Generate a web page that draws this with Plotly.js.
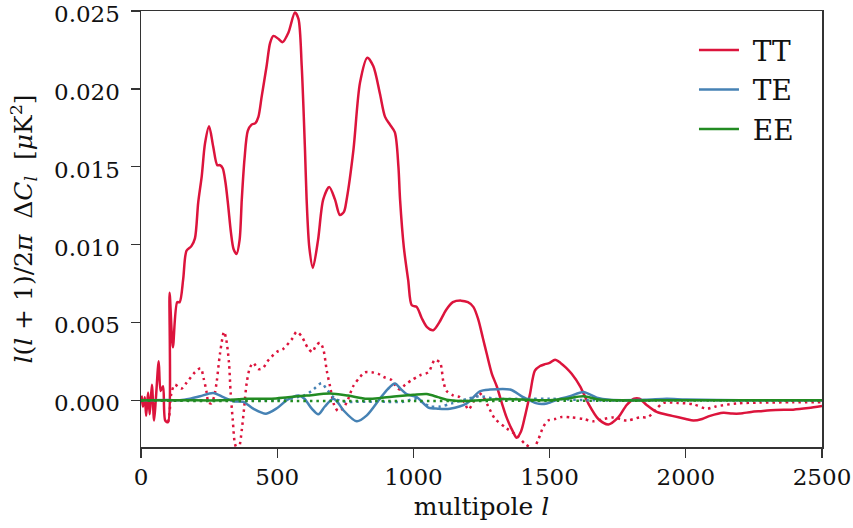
<!DOCTYPE html>
<html>
<head>
<meta charset="utf-8">
<script src="https://cdn.plot.ly/plotly-3.0.1.min.js"></script>
<style>html,body{margin:0;padding:0;background:#fff;}#chart{width:853px;height:528px;}</style>
</head>
<body>
<div id="chart"></div>
<script>
// TT (solid)
const ttL = [2,7,14,19,26,32,40,48,55,65,72,81,89,99,105,117,133,142,155,167,185,198,210,223,235,250,265,280,290,300,310,320,330,340,351,362,370,380,392,406,420,431,443,461,474,486,505,520,541,565,578,590,602,608,618,631,650,669,691,712,730,745,755,780,804,831,853,877,896,914,932,945,951,965,981,994,1012,1030,1050,1073,1095,1120,1145,1175,1200,1220,1238,1255,1269,1288,1306,1325,1342,1365,1379,1395,1410,1428,1446,1465,1480,1500,1520,1540,1560,1581,1612,1642,1679,1716,1752,1783,1810,1830,1856,1893,1950,2000,2028,2060,2089,2138,2170,2199,2240,2272,2330,2394,2450,2500];
const ttVal = [0.0003,-0.0004,0.0002,-0.001,0.0005,-0.0009,0.001,-0.0013,0.0002,0.0025,0.0006,0.0009,-0.0013,-0.0014,0.0069,0.0034,0.0063,0.0063,0.0078,0.0096,0.0099,0.0104,0.0127,0.0144,0.0165,0.0176,0.0163,0.0151,0.0151,0.0149,0.014,0.0125,0.0108,0.0097,0.0094,0.0103,0.0129,0.0155,0.0173,0.0177,0.0178,0.0182,0.0195,0.02145,0.02295,0.0234,0.0232,0.023,0.0236,0.0249,0.0245,0.02145,0.0161,0.0129,0.0098,0.0085,0.0103,0.0129,0.0137,0.0129,0.0119,0.0121,0.0129,0.0161,0.0204,0.022,0.02145,0.0197,0.0182,0.0177,0.0172,0.015,0.0129,0.0098,0.0077,0.0061,0.006,0.0053,0.0047,0.0045,0.005,0.0058,0.0063,0.0064,0.0063,0.006,0.0052,0.004,0.003,0.0017,0.0009,-0.0002,-0.0011,-0.002,-0.0024,-0.002,-0.001,0.0004,0.0019,0.0022,0.0023,0.0024,0.0026,0.0024,0.0021,0.0017,0.0009,-0.0002,-0.0012,-0.00155,-0.0011,-0.0003,0.0001,0.0001,-0.0003,-0.00075,-0.001,-0.0012,-0.0013,-0.0012,-0.001,-0.0008,-0.00085,-0.00085,-0.00075,-0.0007,-0.00062,-0.0006,-0.0005,-0.00037];

// TT (dotted)
const ttDotL = [100,105,111,124,148,166,198,219,230,240,248,258,268,278,290,305,313,323,329,337,345,355,361,370,378,388,400,412,431,449,464,498,522,557,571,590,602,615,629,642,657,669,682,694,709,724,743,761,779,804,822,847,871,890,920,940,951,970,994,1024,1055,1079,1098,1110,1122,1147,1170,1189,1202,1220,1238,1257,1275,1300,1342,1379,1410,1440,1459,1477,1495,1520,1544,1580,1624,1661,1700,1734,1783,1830,1862,1893,1917,1970,2028,2077,2110,2187,2270,2394,2500];
const ttDotVal = [-0.0014,-0.0008,0.0004,0.001,0.00075,0.0011,0.0018,0.00205,0.0014,0.0006,-0.00015,-0.0002,0.0002,0.0012,0.003,0.0044,0.0039,0.0024,0.0005,-0.0013,-0.0028,-0.0032,-0.003,-0.0019,-0.0006,0.0011,0.0021,0.0024,0.002,0.0021,0.0025,0.0031,0.0033,0.004,0.0044,0.0041,0.0037,0.0033,0.0031,0.0035,0.0037,0.0033,0.0019,0.0009,-0.0003,-0.0007,-0.0005,0.0001,0.0009,0.0015,0.0018,0.0018,0.0017,0.0015,0.0013,0.0008,0.0007,0.001,0.0013,0.0016,0.0018,0.0026,0.0024,0.0012,0.0006,0.0003,0.0002,-0.0002,-0.0006,-0.0001,0.0005,0.0002,-0.0004,-0.0012,-0.0018,-0.00225,-0.0028,-0.0031,-0.0025,-0.0017,-0.0013,-0.0012,-0.00107,-0.0011,-0.0012,-0.00135,-0.0012,-0.0011,-0.0013,-0.0011,-0.00107,-0.00054,-0.00017,-0.00017,-0.00026,-0.00054,-0.0004,-0.0002,-0.00015,-0.00013,-0.00013];

// TE (solid)
const teL = [0,100,143,180,217,265,302,339,376,412,459,500,535,578,600,627,651,675,706,725,743,792,829,877,905,932,955,975,1012,1055,1090,1134,1196,1244,1281,1355,1403,1453,1490,1538,1575,1624,1673,1720,1850,1930,2000,2200,2500];
const teVal = [0,0.00002,0,0.0001,0.00026,0.00047,0.0002,-0.00006,-0.0001,-0.00054,-0.00086,-0.0005,0,0.0003,0.0001,-0.00054,-0.0009,-0.0004,0.0001,-0.0002,-0.00064,-0.00135,-0.00097,0.0001,0.0007,0.00107,0.0007,0.0004,0.0002,-0.00047,-0.00054,-0.00054,-0.0002,0.00058,0.00069,0.00069,0.0002,-0.0002,-0.0002,0.0001,0.00026,0.00053,0.00017,0.00003,0.00003,0.0001,0.00005,0,0];

// TE (dotted)
const teDotL = [0,250,500,547,596,627,663,682,713,750,792,850,900,963,1006,1040,1061,1098,1141,1200,1244,1300,1416,1500,1650,2000,2500];
const teDotVal = [0,0,0,0.0001,0.0003,0.0006,0.0011,0.0007,0.0001,-0.0001,-0.0001,-0.0001,-0.0001,-0.0001,0.0001,-0.0002,-0.0004,-0.0004,-0.0002,0.0001,0.00026,0.0001,0.0001,0.0001,0,0,0];

// EE (solid)
const eeL = [0,150,300,388,480,540,608,694,760,829,880,939,1000,1049,1090,1122,1196,1270,1330,1420,1500,1560,1624,1680,1750,2000,2500];
const eeVal = [0,0,0,0.0001,0.0001,0.0002,0.0003,0.00043,0.0003,0.0001,0.00015,0.00026,0.00035,0.0004,0.0002,0.00004,-0.00004,0.00004,0.00008,0.00004,0,0.0001,0.00026,0.00005,0,0,0];

// EE (dotted)
const eeDotL = [0,500,1000,1500,2000,2500];
const eeDotVal = [-0.00003,-0.00005,-0.00005,-0.00003,-0.00002,-0.00002];

// axis ticks
const xTicks = [0,500,1000,1500,2000,2500];
const xTickText = ['0','500','1000','1500','2000','2500'];
const yTicks = [0,0.005,0.01,0.015,0.02,0.025];
const yTickText = ['0.000','0.005','0.010','0.015','0.020','0.025'];

const colors = {TT:'#dc143c', TE:'#4682b4', EE:'#228b22'};

const font = 'DejaVu Serif';
const lw = 2.5;
const dotDash = '2.5px,4px';
const sp = {shape:'spline', smoothing:0.8};

const traces = [
  {x: ttL, y: ttVal, name: '\u00a0TT', line:Object.assign({color:colors.TT, width:lw}, sp)},
  {x: ttDotL, y: ttDotVal, name: 'TT dot', showlegend:false, line:Object.assign({color:colors.TT, width:lw, dash:dotDash}, sp)},
  {x: teL, y: teVal, name: '\u00a0TE', line:Object.assign({color:colors.TE, width:lw}, sp)},
  {x: teDotL, y: teDotVal, name: 'TE dot', showlegend:false, line:Object.assign({color:colors.TE, width:lw, dash:dotDash}, sp)},
  {x: eeL, y: eeVal, name: '\u00a0EE', line:Object.assign({color:colors.EE, width:lw}, sp)},
  {x: eeDotL, y: eeDotVal, name: 'EE dot', showlegend:false, line:Object.assign({color:colors.EE, width:lw, dash:dotDash}, sp)}
].map(t => Object.assign({type:'scatter', mode:'lines', hoverinfo:'skip'}, t));

const axisCommon = {
  showline:true, mirror:true, linecolor:'#333', linewidth:1.5,
  ticks:'outside', ticklen:9, tickwidth:1.3, tickcolor:'#333',
  showgrid:false, zeroline:false, ticklabeloverflow:'allow',
  tickfont:{family:font, size:23, color:'#111'}
};

const layout = {
  width:853, height:528,
  font:{family:font, size:23, color:'#111'},
  margin:{l:141, r:31, t:11, b:81},
  paper_bgcolor:'#fff', plot_bgcolor:'#fff',
  showlegend:true,
  legend:{x:0.812, y:0.967, xanchor:'left', yanchor:'top', bgcolor:'rgba(0,0,0,0)', borderwidth:0,
          font:{family:font, size:28, color:'#111'}, itemwidth:40},
  xaxis: Object.assign({}, axisCommon, {
    range:[0,2500], tickvals:xTicks, ticktext:xTickText,
    title:{text:'multipole <i>l</i>', font:{family:font, size:25, color:'#111'}, standoff:8}
  }),
  yaxis: Object.assign({}, axisCommon, {
    range:[-0.003,0.025], tickvals:yTicks, ticktext:yTickText,
    ticklabelstandoff:6, ticklabelshift:3,
    title:{text:'<i>l</i>(<i>l</i> + 1)/2<i>π</i>  Δ<i>C</i><sub><i>l</i></sub>  [<i>μ</i>K<sup>2</sup>]', font:{family:font, size:25, color:'#111'}, standoff:14}
  })
};

Plotly.newPlot('chart', traces, layout, {staticPlot:true, displayModeBar:false});
</script>
</body>
</html>
